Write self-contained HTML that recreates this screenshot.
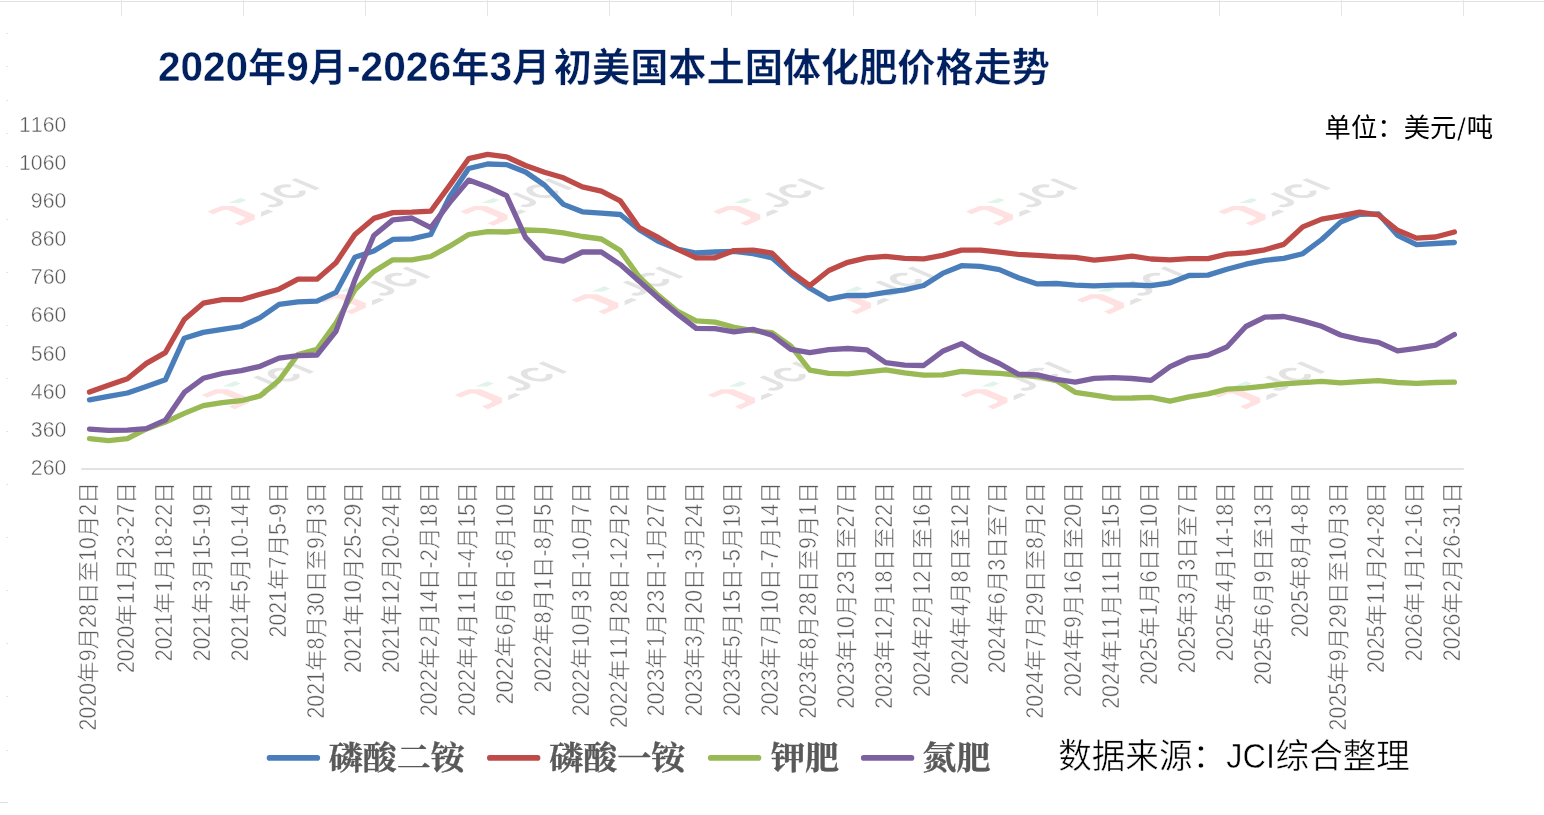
<!DOCTYPE html>
<html lang="zh-CN">
<head>
<meta charset="utf-8">
<title>2020年9月-2026年3月初美国本土固体化肥价格走势</title>
<style>
html,body{margin:0;padding:0;background:#fff}
body{width:1544px;height:815px;overflow:hidden;font-family:"Liberation Sans",sans-serif}
svg{display:block;font-family:"Liberation Sans",sans-serif;font-kerning:none}
.thin text{stroke:#fff;stroke-width:0.5px}
.thinb text{stroke:#fff;stroke-width:0.4px}
.thins text{stroke:#fff;stroke-width:0.5px}
.thiny text{stroke:#fff;stroke-width:0.45px}
text.sl{stroke:#fff;stroke-width:0.9px}
.cj{font-family:"Liberation Sans","Noto Sans CJK SC",sans-serif}
.cs{font-family:"Liberation Serif","Noto Serif CJK SC",serif}
</style>
</head>
<body>
<svg width="1544" height="815" viewBox="0 0 1544 815" aria-label="2020年9月-2026年3月初美国本土固体化肥价格走势">
<defs>
<mask id="gm" maskUnits="userSpaceOnUse" x="0" y="0" width="1544" height="815"><rect width="1544" height="815" fill="#fff"/></mask>
<g id="wm"><path fill="#ffe1e1" d="M207.6 211.8L221.1 206.1H233.5L254.8 214.9V219.6L240.5 226L234.8 223.4L244.4 219.3L244.9 217.5L227.8 210.3H223.7L213 214.4Z"/><path fill="#e0f4e9" d="M228.3 203.3L240.6 198.1L246.5 200.2L239.7 203.3Z"/><path fill="#e3e3e3" d="M261 212.3L267.7 209.7L273.4 211.6L261 217Z"/><g aria-label="JCI" fill="none" stroke="#e3e3e3" stroke-width=".2" transform="matrix(22.08,-9.61,24,10.18,272.2,209.3)"><path d="M.602-1V-.36C.602-.19 .5-.09 .35-.09C.22-.09 .15-.15 .12-.25"/><path d="M1.631-.7255A.359 .414 0 1 0 1.631-.2745"/><path d="M2.058-1V0"/></g></g>
</defs>
<rect width="1544" height="815" fill="#fff"/>
<g mask="url(#gm)">
<g stroke="#e1e1e1" stroke-width="1" fill="none" shape-rendering="crispEdges">
<path d="M0 1.5H1544"/>
<path d="M121.5 0V16M243.5 0V16M365.5 0V16M487.5 0V16M609.5 0V16M731.5 0V16M853.5 0V16M975.5 0V16M1097.5 0V16M1219.5 0V16M1341.5 0V16M1463.5 0V16" stroke="#e5e5e5"/>
<path d="M6 33.5H8M6 66.5H8M6 100.5H8M6 133.5H8M6 166.5H8M6 219.5H8M6 272.5H8M6 325.5H8M6 378.5H8M6 431.5H8M6 484.5H8M6 537.5H8M6 590.5H8M6 643.5H8M6 696.5H8M6 750.5H8" stroke="#e6e6e6"/>
<path d="M0 802.5H8" stroke="#e0e0e0"/>
</g>
<g id="watermarks" aria-hidden="true">
<use href="#wm" x="0" y="-0.2"/>
<use href="#wm" x="252.8" y="-0.2"/>
<use href="#wm" x="505.5" y="-0.2"/>
<use href="#wm" x="758.3" y="-0.2"/>
<use href="#wm" x="1010.9" y="-0.2"/>
<use href="#wm" x="111" y="88.2"/>
<use href="#wm" x="363.6" y="88.2"/>
<use href="#wm" x="616.3" y="88.2"/>
<use href="#wm" x="869.2" y="88.2"/>
<use href="#wm" x="-5.8" y="183.2"/>
<use href="#wm" x="247.2" y="183.2"/>
<use href="#wm" x="500.2" y="183.2"/>
<use href="#wm" x="752.7" y="183.2"/>
<use href="#wm" x="1005.4" y="183.2"/>
</g>
<path d="M81.2 469H1463.8" stroke="#d9d9d9" stroke-width="1.5" fill="none"/>
<g id="yaxis" class="thiny" fill="#595959" text-anchor="end" font-size="22.4">
<text transform="translate(66.3,474.9) scale(0.95,1)">260</text>
<text transform="translate(66.3,436.77) scale(0.95,1)">360</text>
<text transform="translate(66.3,398.64) scale(0.95,1)">460</text>
<text transform="translate(66.3,360.51) scale(0.95,1)">560</text>
<text transform="translate(66.3,322.38) scale(0.95,1)">660</text>
<text transform="translate(66.3,284.25) scale(0.95,1)">760</text>
<text transform="translate(66.3,246.12) scale(0.95,1)">860</text>
<text transform="translate(66.3,207.99) scale(0.95,1)">960</text>
<text transform="translate(66.3,169.86) scale(0.95,1)">1060</text>
<text transform="translate(66.3,131.73) scale(0.95,1)">1160</text>
</g>
<g id="series" fill="none" stroke-width="5.3" stroke-linecap="round" stroke-linejoin="round">
<polyline points="89.5,399.8 108.46,396.3 127.41,393 146.37,386.6 165.33,379.8 184.28,338.2 203.24,332.4 222.2,329.4 241.16,326.5 260.11,317.6 279.07,304.3 298.03,301.9 316.98,301.2 335.94,292.4 354.9,257.2 373.85,251 392.81,239.4 411.77,238.8 430.73,234.5 449.68,196.8 468.64,168.5 487.6,164 506.55,164.6 525.51,172 544.47,185 563.42,204.4 582.38,211.8 601.34,213.1 620.29,214.5 639.25,229.7 658.21,241.3 677.17,249.1 696.12,253 715.08,252 734.04,251.4 752.99,253.6 771.95,257.8 790.91,274.3 809.86,288.3 828.82,299.2 847.78,295.4 866.73,295.5 885.69,292.3 904.65,289.8 923.61,285.5 942.56,273.4 961.52,265.7 980.48,266.4 999.43,269.6 1018.39,277.7 1037.35,283.9 1056.3,283.5 1075.26,285.1 1094.22,285.9 1113.18,285.1 1132.13,285 1151.09,285.7 1170.05,282.9 1189,275.5 1207.96,275.1 1226.92,269.3 1245.87,264.2 1264.83,260.3 1283.79,258.4 1302.74,253.7 1321.7,239.5 1340.66,222.1 1359.62,214.3 1378.57,213.9 1397.53,235.3 1416.49,244.6 1435.44,243.5 1454.4,242.5" stroke="#4a7ebb"/>
<polyline points="89.5,392 108.46,385.2 127.41,378.8 146.37,363.4 165.33,352.6 184.28,319.5 203.24,303.2 222.2,299.7 241.16,299.7 260.11,294.3 279.07,289.2 298.03,279.2 316.98,279.2 335.94,262.7 354.9,234.5 373.85,218.4 392.81,212.6 411.77,212.2 430.73,211.2 449.68,185.4 468.64,158.7 487.6,154.3 506.55,156.8 525.51,165.5 544.47,172.3 563.42,177.8 582.38,186.9 601.34,191.2 620.29,200.9 639.25,227.7 658.21,237.4 677.17,249.1 696.12,257.8 715.08,257.8 734.04,250.6 752.99,250.1 771.95,253 790.91,272 809.86,285.6 828.82,270.5 847.78,262.3 866.73,257.9 885.69,256.3 904.65,258.3 923.61,258.9 942.56,255.4 961.52,250.1 980.48,250.1 999.43,252.1 1018.39,254.4 1037.35,255.4 1056.3,256.7 1075.26,257.3 1094.22,260.2 1113.18,258.3 1132.13,256.2 1151.09,259 1170.05,259.9 1189,258.6 1207.96,258.6 1226.92,254.1 1245.87,252.8 1264.83,249.8 1283.79,244.4 1302.74,226.9 1321.7,219.1 1340.66,215.8 1359.62,212.2 1378.57,215 1397.53,230.3 1416.49,238.1 1435.44,237 1454.4,232" stroke="#be4b48"/>
<polyline points="89.5,438.6 108.46,440.6 127.41,438.6 146.37,428.9 165.33,422.1 184.28,413.4 203.24,405.6 222.2,402.7 241.16,400.7 260.11,395.9 279.07,380.3 298.03,354.5 316.98,349.3 335.94,323 354.9,289.9 373.85,271.4 392.81,259.8 411.77,259.8 430.73,256.5 449.68,246.2 468.64,234.5 487.6,231.6 506.55,232 525.51,230 544.47,230.6 563.42,232.9 582.38,236.5 601.34,239 620.29,250.6 639.25,277 658.21,295.3 677.17,311 696.12,320.9 715.08,322.1 734.04,327.3 752.99,330.6 771.95,332.6 790.91,346.2 809.86,370.1 828.82,373.4 847.78,373.9 866.73,371.9 885.69,369.9 904.65,372.9 923.61,375.2 942.56,374.8 961.52,371.3 980.48,372.5 999.43,373.4 1018.39,375 1037.35,376.5 1056.3,380.6 1075.26,392.3 1094.22,395.2 1113.18,398.1 1132.13,398 1151.09,397.4 1170.05,401.1 1189,396.9 1207.96,393.9 1226.92,389.1 1245.87,388.1 1264.83,386.2 1283.79,383.8 1302.74,382.7 1321.7,381.3 1340.66,382.9 1359.62,381.6 1378.57,380.6 1397.53,382.5 1416.49,383.4 1435.44,382.5 1454.4,382.2" stroke="#98b954"/>
<polyline points="89.5,429.1 108.46,430.3 127.41,430.1 146.37,428.7 165.33,420.2 184.28,392.4 203.24,378.3 222.2,373.5 241.16,370.7 260.11,366.3 279.07,358.1 298.03,355.6 316.98,355 335.94,331.4 354.9,279.8 373.85,235.5 392.81,219.9 411.77,218 430.73,227.7 449.68,202.6 468.64,180.1 487.6,186.9 506.55,195.7 525.51,237.4 544.47,257.8 563.42,261.1 582.38,252 601.34,252 620.29,264.6 639.25,281.2 658.21,298.1 677.17,313.9 696.12,328.3 715.08,328.7 734.04,331.8 752.99,329.3 771.95,335.1 790.91,349.3 809.86,352.6 828.82,349.7 847.78,348.5 866.73,349.8 885.69,362.6 904.65,365.1 923.61,365.5 942.56,351.3 961.52,343.6 980.48,355 999.43,363.5 1018.39,374.2 1037.35,374.8 1056.3,379.3 1075.26,382.2 1094.22,378.3 1113.18,377.7 1132.13,378.5 1151.09,380.3 1170.05,366.7 1189,358 1207.96,355.1 1226.92,347 1245.87,326.5 1264.83,317.2 1283.79,316.5 1302.74,320.9 1321.7,326.3 1340.66,335 1359.62,339.4 1378.57,342.4 1397.53,350.9 1416.49,348.4 1435.44,345.1 1454.4,334.5" stroke="#7d60a0"/>
</g>
<g id="xaxis" class="thin" fill="#595959">
<g transform="translate(96.27,730.38) rotate(-90)" aria-label="2020年9月28日至10月2日"><g class="cj" font-size="21.6"><text x="47.43">年</text><text x="80.89">月</text><text x="126.21">日</text><text x="147.81">至</text><text x="193.13">月</text><text x="226.58">日</text></g><text transform="translate(0,0) scale(0.889,1)" font-size="23.98">2020</text><text transform="translate(69.03,0) scale(0.889,1)" font-size="23.98">9</text><text transform="translate(102.49,0) scale(0.889,1)" font-size="23.98">28</text><text transform="translate(169.41,0) scale(0.889,1)" font-size="23.98">10</text><text transform="translate(214.73,0) scale(0.889,1)" font-size="23.98">2</text></g>
<g transform="translate(134.15,672.99) rotate(-90)" aria-label="2020年11月23-27日"><g class="cj" font-size="21.6"><text x="47.43">年</text><text x="92.75">月</text><text x="169.19">日</text></g><text transform="translate(0,0) scale(0.889,1)" font-size="23.98">2020</text><text transform="translate(69.03,0) scale(0.889,1)" font-size="23.98">11</text><text transform="translate(114.35,0) scale(0.894,1)" font-size="23.98">23-27</text></g>
<g transform="translate(172.03,661.13) rotate(-90)" aria-label="2021年1月18-22日"><g class="cj" font-size="21.6"><text x="47.43">年</text><text x="80.89">月</text><text x="157.33">日</text></g><text transform="translate(0,0) scale(0.889,1)" font-size="23.98">2021</text><text transform="translate(69.03,0) scale(0.889,1)" font-size="23.98">1</text><text transform="translate(102.49,0) scale(0.894,1)" font-size="23.98">18-22</text></g>
<g transform="translate(209.91,661.13) rotate(-90)" aria-label="2021年3月15-19日"><g class="cj" font-size="21.6"><text x="47.43">年</text><text x="80.89">月</text><text x="157.33">日</text></g><text transform="translate(0,0) scale(0.889,1)" font-size="23.98">2021</text><text transform="translate(69.03,0) scale(0.889,1)" font-size="23.98">3</text><text transform="translate(102.49,0) scale(0.894,1)" font-size="23.98">15-19</text></g>
<g transform="translate(247.79,661.13) rotate(-90)" aria-label="2021年5月10-14日"><g class="cj" font-size="21.6"><text x="47.43">年</text><text x="80.89">月</text><text x="157.33">日</text></g><text transform="translate(0,0) scale(0.889,1)" font-size="23.98">2021</text><text transform="translate(69.03,0) scale(0.889,1)" font-size="23.98">5</text><text transform="translate(102.49,0) scale(0.894,1)" font-size="23.98">10-14</text></g>
<g transform="translate(285.67,637.42) rotate(-90)" aria-label="2021年7月5-9日"><g class="cj" font-size="21.6"><text x="47.43">年</text><text x="80.89">月</text><text x="133.62">日</text></g><text transform="translate(0,0) scale(0.889,1)" font-size="23.98">2021</text><text transform="translate(69.03,0) scale(0.889,1)" font-size="23.98">7</text><text transform="translate(102.49,0) scale(0.898,1)" font-size="23.98">5-9</text></g>
<g transform="translate(323.55,718.53) rotate(-90)" aria-label="2021年8月30日至9月3日"><g class="cj" font-size="21.6"><text x="47.43">年</text><text x="80.89">月</text><text x="126.21">日</text><text x="147.81">至</text><text x="181.27">月</text><text x="214.73">日</text></g><text transform="translate(0,0) scale(0.889,1)" font-size="23.98">2021</text><text transform="translate(69.03,0) scale(0.889,1)" font-size="23.98">8</text><text transform="translate(102.49,0) scale(0.889,1)" font-size="23.98">30</text><text transform="translate(169.41,0) scale(0.889,1)" font-size="23.98">9</text><text transform="translate(202.87,0) scale(0.889,1)" font-size="23.98">3</text></g>
<g transform="translate(361.43,672.99) rotate(-90)" aria-label="2021年10月25-29日"><g class="cj" font-size="21.6"><text x="47.43">年</text><text x="92.75">月</text><text x="169.19">日</text></g><text transform="translate(0,0) scale(0.889,1)" font-size="23.98">2021</text><text transform="translate(69.03,0) scale(0.889,1)" font-size="23.98">10</text><text transform="translate(114.35,0) scale(0.894,1)" font-size="23.98">25-29</text></g>
<g transform="translate(399.31,672.99) rotate(-90)" aria-label="2021年12月20-24日"><g class="cj" font-size="21.6"><text x="47.43">年</text><text x="92.75">月</text><text x="169.19">日</text></g><text transform="translate(0,0) scale(0.889,1)" font-size="23.98">2021</text><text transform="translate(69.03,0) scale(0.889,1)" font-size="23.98">12</text><text transform="translate(114.35,0) scale(0.894,1)" font-size="23.98">20-24</text></g>
<g transform="translate(437.18,716.19) rotate(-90)" aria-label="2022年2月14日-2月18日"><g class="cj" font-size="21.6"><text x="47.43">年</text><text x="80.89">月</text><text x="126.21">日</text><text x="167.08">月</text><text x="212.39">日</text></g><text transform="translate(0,0) scale(0.889,1)" font-size="23.98">2022</text><text transform="translate(69.03,0) scale(0.889,1)" font-size="23.98">2</text><text transform="translate(102.49,0) scale(0.889,1)" font-size="23.98">14</text><text transform="translate(147.81,0) scale(0.904,1)" font-size="23.98">-2</text><text transform="translate(188.68,0) scale(0.889,1)" font-size="23.98">18</text></g>
<g transform="translate(475.06,716.19) rotate(-90)" aria-label="2022年4月11日-4月15日"><g class="cj" font-size="21.6"><text x="47.43">年</text><text x="80.89">月</text><text x="126.21">日</text><text x="167.08">月</text><text x="212.39">日</text></g><text transform="translate(0,0) scale(0.889,1)" font-size="23.98">2022</text><text transform="translate(69.03,0) scale(0.889,1)" font-size="23.98">4</text><text transform="translate(102.49,0) scale(0.889,1)" font-size="23.98">11</text><text transform="translate(147.81,0) scale(0.904,1)" font-size="23.98">-4</text><text transform="translate(188.68,0) scale(0.889,1)" font-size="23.98">15</text></g>
<g transform="translate(512.94,704.33) rotate(-90)" aria-label="2022年6月6日-6月10日"><g class="cj" font-size="21.6"><text x="47.43">年</text><text x="80.89">月</text><text x="114.35">日</text><text x="155.22">月</text><text x="200.53">日</text></g><text transform="translate(0,0) scale(0.889,1)" font-size="23.98">2022</text><text transform="translate(69.03,0) scale(0.889,1)" font-size="23.98">6</text><text transform="translate(102.49,0) scale(0.889,1)" font-size="23.98">6</text><text transform="translate(135.95,0) scale(0.904,1)" font-size="23.98">-6</text><text transform="translate(176.82,0) scale(0.889,1)" font-size="23.98">10</text></g>
<g transform="translate(550.82,692.48) rotate(-90)" aria-label="2022年8月1日-8月5日"><g class="cj" font-size="21.6"><text x="47.43">年</text><text x="80.89">月</text><text x="114.35">日</text><text x="155.22">月</text><text x="188.68">日</text></g><text transform="translate(0,0) scale(0.889,1)" font-size="23.98">2022</text><text transform="translate(69.03,0) scale(0.889,1)" font-size="23.98">8</text><text transform="translate(102.49,0) scale(0.889,1)" font-size="23.98">1</text><text transform="translate(135.95,0) scale(0.904,1)" font-size="23.98">-8</text><text transform="translate(176.82,0) scale(0.889,1)" font-size="23.98">5</text></g>
<g transform="translate(588.7,716.19) rotate(-90)" aria-label="2022年10月3日-10月7日"><g class="cj" font-size="21.6"><text x="47.43">年</text><text x="92.75">月</text><text x="126.21">日</text><text x="178.93">月</text><text x="212.39">日</text></g><text transform="translate(0,0) scale(0.889,1)" font-size="23.98">2022</text><text transform="translate(69.03,0) scale(0.889,1)" font-size="23.98">10</text><text transform="translate(114.35,0) scale(0.889,1)" font-size="23.98">3</text><text transform="translate(147.81,0) scale(0.898,1)" font-size="23.98">-10</text><text transform="translate(200.53,0) scale(0.889,1)" font-size="23.98">7</text></g>
<g transform="translate(626.58,728.05) rotate(-90)" aria-label="2022年11月28日-12月2日"><g class="cj" font-size="21.6"><text x="47.43">年</text><text x="92.75">月</text><text x="138.07">日</text><text x="190.79">月</text><text x="224.25">日</text></g><text transform="translate(0,0) scale(0.889,1)" font-size="23.98">2022</text><text transform="translate(69.03,0) scale(0.889,1)" font-size="23.98">11</text><text transform="translate(114.35,0) scale(0.889,1)" font-size="23.98">28</text><text transform="translate(159.67,0) scale(0.898,1)" font-size="23.98">-12</text><text transform="translate(212.39,0) scale(0.889,1)" font-size="23.98">2</text></g>
<g transform="translate(664.46,716.19) rotate(-90)" aria-label="2023年1月23日-1月27日"><g class="cj" font-size="21.6"><text x="47.43">年</text><text x="80.89">月</text><text x="126.21">日</text><text x="167.08">月</text><text x="212.39">日</text></g><text transform="translate(0,0) scale(0.889,1)" font-size="23.98">2023</text><text transform="translate(69.03,0) scale(0.889,1)" font-size="23.98">1</text><text transform="translate(102.49,0) scale(0.889,1)" font-size="23.98">23</text><text transform="translate(147.81,0) scale(0.904,1)" font-size="23.98">-1</text><text transform="translate(188.68,0) scale(0.889,1)" font-size="23.98">27</text></g>
<g transform="translate(702.34,716.19) rotate(-90)" aria-label="2023年3月20日-3月24日"><g class="cj" font-size="21.6"><text x="47.43">年</text><text x="80.89">月</text><text x="126.21">日</text><text x="167.08">月</text><text x="212.39">日</text></g><text transform="translate(0,0) scale(0.889,1)" font-size="23.98">2023</text><text transform="translate(69.03,0) scale(0.889,1)" font-size="23.98">3</text><text transform="translate(102.49,0) scale(0.889,1)" font-size="23.98">20</text><text transform="translate(147.81,0) scale(0.904,1)" font-size="23.98">-3</text><text transform="translate(188.68,0) scale(0.889,1)" font-size="23.98">24</text></g>
<g transform="translate(740.22,716.19) rotate(-90)" aria-label="2023年5月15日-5月19日"><g class="cj" font-size="21.6"><text x="47.43">年</text><text x="80.89">月</text><text x="126.21">日</text><text x="167.08">月</text><text x="212.39">日</text></g><text transform="translate(0,0) scale(0.889,1)" font-size="23.98">2023</text><text transform="translate(69.03,0) scale(0.889,1)" font-size="23.98">5</text><text transform="translate(102.49,0) scale(0.889,1)" font-size="23.98">15</text><text transform="translate(147.81,0) scale(0.904,1)" font-size="23.98">-5</text><text transform="translate(188.68,0) scale(0.889,1)" font-size="23.98">19</text></g>
<g transform="translate(778.1,716.19) rotate(-90)" aria-label="2023年7月10日-7月14日"><g class="cj" font-size="21.6"><text x="47.43">年</text><text x="80.89">月</text><text x="126.21">日</text><text x="167.08">月</text><text x="212.39">日</text></g><text transform="translate(0,0) scale(0.889,1)" font-size="23.98">2023</text><text transform="translate(69.03,0) scale(0.889,1)" font-size="23.98">7</text><text transform="translate(102.49,0) scale(0.889,1)" font-size="23.98">10</text><text transform="translate(147.81,0) scale(0.904,1)" font-size="23.98">-7</text><text transform="translate(188.68,0) scale(0.889,1)" font-size="23.98">14</text></g>
<g transform="translate(815.98,718.53) rotate(-90)" aria-label="2023年8月28日至9月1日"><g class="cj" font-size="21.6"><text x="47.43">年</text><text x="80.89">月</text><text x="126.21">日</text><text x="147.81">至</text><text x="181.27">月</text><text x="214.73">日</text></g><text transform="translate(0,0) scale(0.889,1)" font-size="23.98">2023</text><text transform="translate(69.03,0) scale(0.889,1)" font-size="23.98">8</text><text transform="translate(102.49,0) scale(0.889,1)" font-size="23.98">28</text><text transform="translate(169.41,0) scale(0.889,1)" font-size="23.98">9</text><text transform="translate(202.87,0) scale(0.889,1)" font-size="23.98">1</text></g>
<g transform="translate(853.86,708.78) rotate(-90)" aria-label="2023年10月23日至27日"><g class="cj" font-size="21.6"><text x="47.43">年</text><text x="92.75">月</text><text x="138.07">日</text><text x="159.67">至</text><text x="204.98">日</text></g><text transform="translate(0,0) scale(0.889,1)" font-size="23.98">2023</text><text transform="translate(69.03,0) scale(0.889,1)" font-size="23.98">10</text><text transform="translate(114.35,0) scale(0.889,1)" font-size="23.98">23</text><text transform="translate(181.27,0) scale(0.889,1)" font-size="23.98">27</text></g>
<g transform="translate(891.74,708.78) rotate(-90)" aria-label="2023年12月18日至22日"><g class="cj" font-size="21.6"><text x="47.43">年</text><text x="92.75">月</text><text x="138.07">日</text><text x="159.67">至</text><text x="204.98">日</text></g><text transform="translate(0,0) scale(0.889,1)" font-size="23.98">2023</text><text transform="translate(69.03,0) scale(0.889,1)" font-size="23.98">12</text><text transform="translate(114.35,0) scale(0.889,1)" font-size="23.98">18</text><text transform="translate(181.27,0) scale(0.889,1)" font-size="23.98">22</text></g>
<g transform="translate(929.62,696.93) rotate(-90)" aria-label="2024年2月12日至16日"><g class="cj" font-size="21.6"><text x="47.43">年</text><text x="80.89">月</text><text x="126.21">日</text><text x="147.81">至</text><text x="193.13">日</text></g><text transform="translate(0,0) scale(0.889,1)" font-size="23.98">2024</text><text transform="translate(69.03,0) scale(0.889,1)" font-size="23.98">2</text><text transform="translate(102.49,0) scale(0.889,1)" font-size="23.98">12</text><text transform="translate(169.41,0) scale(0.889,1)" font-size="23.98">16</text></g>
<g transform="translate(967.5,685.07) rotate(-90)" aria-label="2024年4月8日至12日"><g class="cj" font-size="21.6"><text x="47.43">年</text><text x="80.89">月</text><text x="114.35">日</text><text x="135.95">至</text><text x="181.27">日</text></g><text transform="translate(0,0) scale(0.889,1)" font-size="23.98">2024</text><text transform="translate(69.03,0) scale(0.889,1)" font-size="23.98">4</text><text transform="translate(102.49,0) scale(0.889,1)" font-size="23.98">8</text><text transform="translate(157.55,0) scale(0.889,1)" font-size="23.98">12</text></g>
<g transform="translate(1005.38,673.21) rotate(-90)" aria-label="2024年6月3日至7日"><g class="cj" font-size="21.6"><text x="47.43">年</text><text x="80.89">月</text><text x="114.35">日</text><text x="135.95">至</text><text x="169.41">日</text></g><text transform="translate(0,0) scale(0.889,1)" font-size="23.98">2024</text><text transform="translate(69.03,0) scale(0.889,1)" font-size="23.98">6</text><text transform="translate(102.49,0) scale(0.889,1)" font-size="23.98">3</text><text transform="translate(157.55,0) scale(0.889,1)" font-size="23.98">7</text></g>
<g transform="translate(1043.26,718.53) rotate(-90)" aria-label="2024年7月29日至8月2日"><g class="cj" font-size="21.6"><text x="47.43">年</text><text x="80.89">月</text><text x="126.21">日</text><text x="147.81">至</text><text x="181.27">月</text><text x="214.73">日</text></g><text transform="translate(0,0) scale(0.889,1)" font-size="23.98">2024</text><text transform="translate(69.03,0) scale(0.889,1)" font-size="23.98">7</text><text transform="translate(102.49,0) scale(0.889,1)" font-size="23.98">29</text><text transform="translate(169.41,0) scale(0.889,1)" font-size="23.98">8</text><text transform="translate(202.87,0) scale(0.889,1)" font-size="23.98">2</text></g>
<g transform="translate(1081.14,696.93) rotate(-90)" aria-label="2024年9月16日至20日"><g class="cj" font-size="21.6"><text x="47.43">年</text><text x="80.89">月</text><text x="126.21">日</text><text x="147.81">至</text><text x="193.13">日</text></g><text transform="translate(0,0) scale(0.889,1)" font-size="23.98">2024</text><text transform="translate(69.03,0) scale(0.889,1)" font-size="23.98">9</text><text transform="translate(102.49,0) scale(0.889,1)" font-size="23.98">16</text><text transform="translate(169.41,0) scale(0.889,1)" font-size="23.98">20</text></g>
<g transform="translate(1119.02,708.78) rotate(-90)" aria-label="2024年11月11日至15日"><g class="cj" font-size="21.6"><text x="47.43">年</text><text x="92.75">月</text><text x="138.07">日</text><text x="159.67">至</text><text x="204.98">日</text></g><text transform="translate(0,0) scale(0.889,1)" font-size="23.98">2024</text><text transform="translate(69.03,0) scale(0.889,1)" font-size="23.98">11</text><text transform="translate(114.35,0) scale(0.889,1)" font-size="23.98">11</text><text transform="translate(181.27,0) scale(0.889,1)" font-size="23.98">15</text></g>
<g transform="translate(1156.89,685.07) rotate(-90)" aria-label="2025年1月6日至10日"><g class="cj" font-size="21.6"><text x="47.43">年</text><text x="80.89">月</text><text x="114.35">日</text><text x="135.95">至</text><text x="181.27">日</text></g><text transform="translate(0,0) scale(0.889,1)" font-size="23.98">2025</text><text transform="translate(69.03,0) scale(0.889,1)" font-size="23.98">1</text><text transform="translate(102.49,0) scale(0.889,1)" font-size="23.98">6</text><text transform="translate(157.55,0) scale(0.889,1)" font-size="23.98">10</text></g>
<g transform="translate(1194.77,673.21) rotate(-90)" aria-label="2025年3月3日至7日"><g class="cj" font-size="21.6"><text x="47.43">年</text><text x="80.89">月</text><text x="114.35">日</text><text x="135.95">至</text><text x="169.41">日</text></g><text transform="translate(0,0) scale(0.889,1)" font-size="23.98">2025</text><text transform="translate(69.03,0) scale(0.889,1)" font-size="23.98">3</text><text transform="translate(102.49,0) scale(0.889,1)" font-size="23.98">3</text><text transform="translate(157.55,0) scale(0.889,1)" font-size="23.98">7</text></g>
<g transform="translate(1232.65,661.13) rotate(-90)" aria-label="2025年4月14-18日"><g class="cj" font-size="21.6"><text x="47.43">年</text><text x="80.89">月</text><text x="157.33">日</text></g><text transform="translate(0,0) scale(0.889,1)" font-size="23.98">2025</text><text transform="translate(69.03,0) scale(0.889,1)" font-size="23.98">4</text><text transform="translate(102.49,0) scale(0.894,1)" font-size="23.98">14-18</text></g>
<g transform="translate(1270.53,685.07) rotate(-90)" aria-label="2025年6月9日至13日"><g class="cj" font-size="21.6"><text x="47.43">年</text><text x="80.89">月</text><text x="114.35">日</text><text x="135.95">至</text><text x="181.27">日</text></g><text transform="translate(0,0) scale(0.889,1)" font-size="23.98">2025</text><text transform="translate(69.03,0) scale(0.889,1)" font-size="23.98">6</text><text transform="translate(102.49,0) scale(0.889,1)" font-size="23.98">9</text><text transform="translate(157.55,0) scale(0.889,1)" font-size="23.98">13</text></g>
<g transform="translate(1308.41,637.42) rotate(-90)" aria-label="2025年8月4-8日"><g class="cj" font-size="21.6"><text x="47.43">年</text><text x="80.89">月</text><text x="133.62">日</text></g><text transform="translate(0,0) scale(0.889,1)" font-size="23.98">2025</text><text transform="translate(69.03,0) scale(0.889,1)" font-size="23.98">8</text><text transform="translate(102.49,0) scale(0.898,1)" font-size="23.98">4-8</text></g>
<g transform="translate(1346.29,730.38) rotate(-90)" aria-label="2025年9月29日至10月3日"><g class="cj" font-size="21.6"><text x="47.43">年</text><text x="80.89">月</text><text x="126.21">日</text><text x="147.81">至</text><text x="193.13">月</text><text x="226.58">日</text></g><text transform="translate(0,0) scale(0.889,1)" font-size="23.98">2025</text><text transform="translate(69.03,0) scale(0.889,1)" font-size="23.98">9</text><text transform="translate(102.49,0) scale(0.889,1)" font-size="23.98">29</text><text transform="translate(169.41,0) scale(0.889,1)" font-size="23.98">10</text><text transform="translate(214.73,0) scale(0.889,1)" font-size="23.98">3</text></g>
<g transform="translate(1384.17,672.99) rotate(-90)" aria-label="2025年11月24-28日"><g class="cj" font-size="21.6"><text x="47.43">年</text><text x="92.75">月</text><text x="169.19">日</text></g><text transform="translate(0,0) scale(0.889,1)" font-size="23.98">2025</text><text transform="translate(69.03,0) scale(0.889,1)" font-size="23.98">11</text><text transform="translate(114.35,0) scale(0.894,1)" font-size="23.98">24-28</text></g>
<g transform="translate(1422.05,661.13) rotate(-90)" aria-label="2026年1月12-16日"><g class="cj" font-size="21.6"><text x="47.43">年</text><text x="80.89">月</text><text x="157.33">日</text></g><text transform="translate(0,0) scale(0.889,1)" font-size="23.98">2026</text><text transform="translate(69.03,0) scale(0.889,1)" font-size="23.98">1</text><text transform="translate(102.49,0) scale(0.894,1)" font-size="23.98">12-16</text></g>
<g transform="translate(1459.93,661.13) rotate(-90)" aria-label="2026年2月26-31日"><g class="cj" font-size="21.6"><text x="47.43">年</text><text x="80.89">月</text><text x="157.33">日</text></g><text transform="translate(0,0) scale(0.889,1)" font-size="23.98">2026</text><text transform="translate(69.03,0) scale(0.889,1)" font-size="23.98">2</text><text transform="translate(102.49,0) scale(0.894,1)" font-size="23.98">26-31</text></g>
</g>
<g id="title" class="thinb" fill="#002060" font-weight="bold" transform="translate(158,81)" aria-label="2020年9月-2026年3月初美国本土固体化肥价格走势"><g class="cj" font-size="38.18"><text x="90.1">年</text><text x="150.81">月</text><text x="293.22">年</text><text x="353.93">月</text><text x="395.81">初美国本土固体化肥价格走势</text></g><text transform="translate(0,0) scale(0.973,1)" font-size="41.62">2020</text><text transform="translate(128.28,0) scale(0.973,1)" font-size="41.62">9</text><text transform="translate(188.99,0) scale(0.979,1)" font-size="41.62">-2026</text><text transform="translate(331.4,0) scale(0.973,1)" font-size="41.62">3</text></g>
<g id="unit" fill="#000" transform="translate(1324.6,136.8)" aria-label="单位：美元/吨"><g class="cj" font-size="26.35"><text x="0">单位：美元</text><text x="142.13">吨</text></g><text class="sl" x="132.26" y="4.61" font-size="33.73">/</text></g>
<g id="legend" fill="#595959">
<path d="M269.5 757.9h47.8" stroke="#4a7ebb" stroke-width="5.6" stroke-linecap="round" fill="none"/>
<g transform="translate(328.75,769.4)" aria-label="磷酸二铵" stroke="#595959" stroke-width="0.4" stroke-linejoin="round"><text class="cs" transform="scale(1,0.95)" font-size="34" font-weight="bold">磷酸二铵</text></g>
<path d="M489.8 757.9h47.8" stroke="#be4b48" stroke-width="5.6" stroke-linecap="round" fill="none"/>
<g transform="translate(549.2,769.4)" aria-label="磷酸一铵" stroke="#595959" stroke-width="0.4" stroke-linejoin="round"><text class="cs" transform="scale(1,0.95)" font-size="34" font-weight="bold">磷酸一铵</text></g>
<path d="M710.7 757.9h47.8" stroke="#98b954" stroke-width="5.6" stroke-linecap="round" fill="none"/>
<g transform="translate(770.9,769.4)" aria-label="钾肥" stroke="#595959" stroke-width="0.4" stroke-linejoin="round"><text class="cs" transform="scale(1,0.95)" font-size="34" font-weight="bold">钾肥</text></g>
<path d="M863.7 757.9h47.8" stroke="#7d60a0" stroke-width="5.6" stroke-linecap="round" fill="none"/>
<g transform="translate(922.5,769.4)" aria-label="氮肥" stroke="#595959" stroke-width="0.4" stroke-linejoin="round"><text class="cs" transform="scale(1,0.95)" font-size="34" font-weight="bold">氮肥</text></g>
</g>
<g id="source" class="thins" fill="#000" transform="translate(1058.2,768.3)" aria-label="数据来源：JCI综合整理"><g class="cj" font-size="33.6"><text x="0">数据来源：</text><text x="217.36">综合整理</text></g><text transform="translate(168,0) scale(0.908,1)" font-size="35.78">JCI</text></g>
</g>
</svg>
</body>
</html>
